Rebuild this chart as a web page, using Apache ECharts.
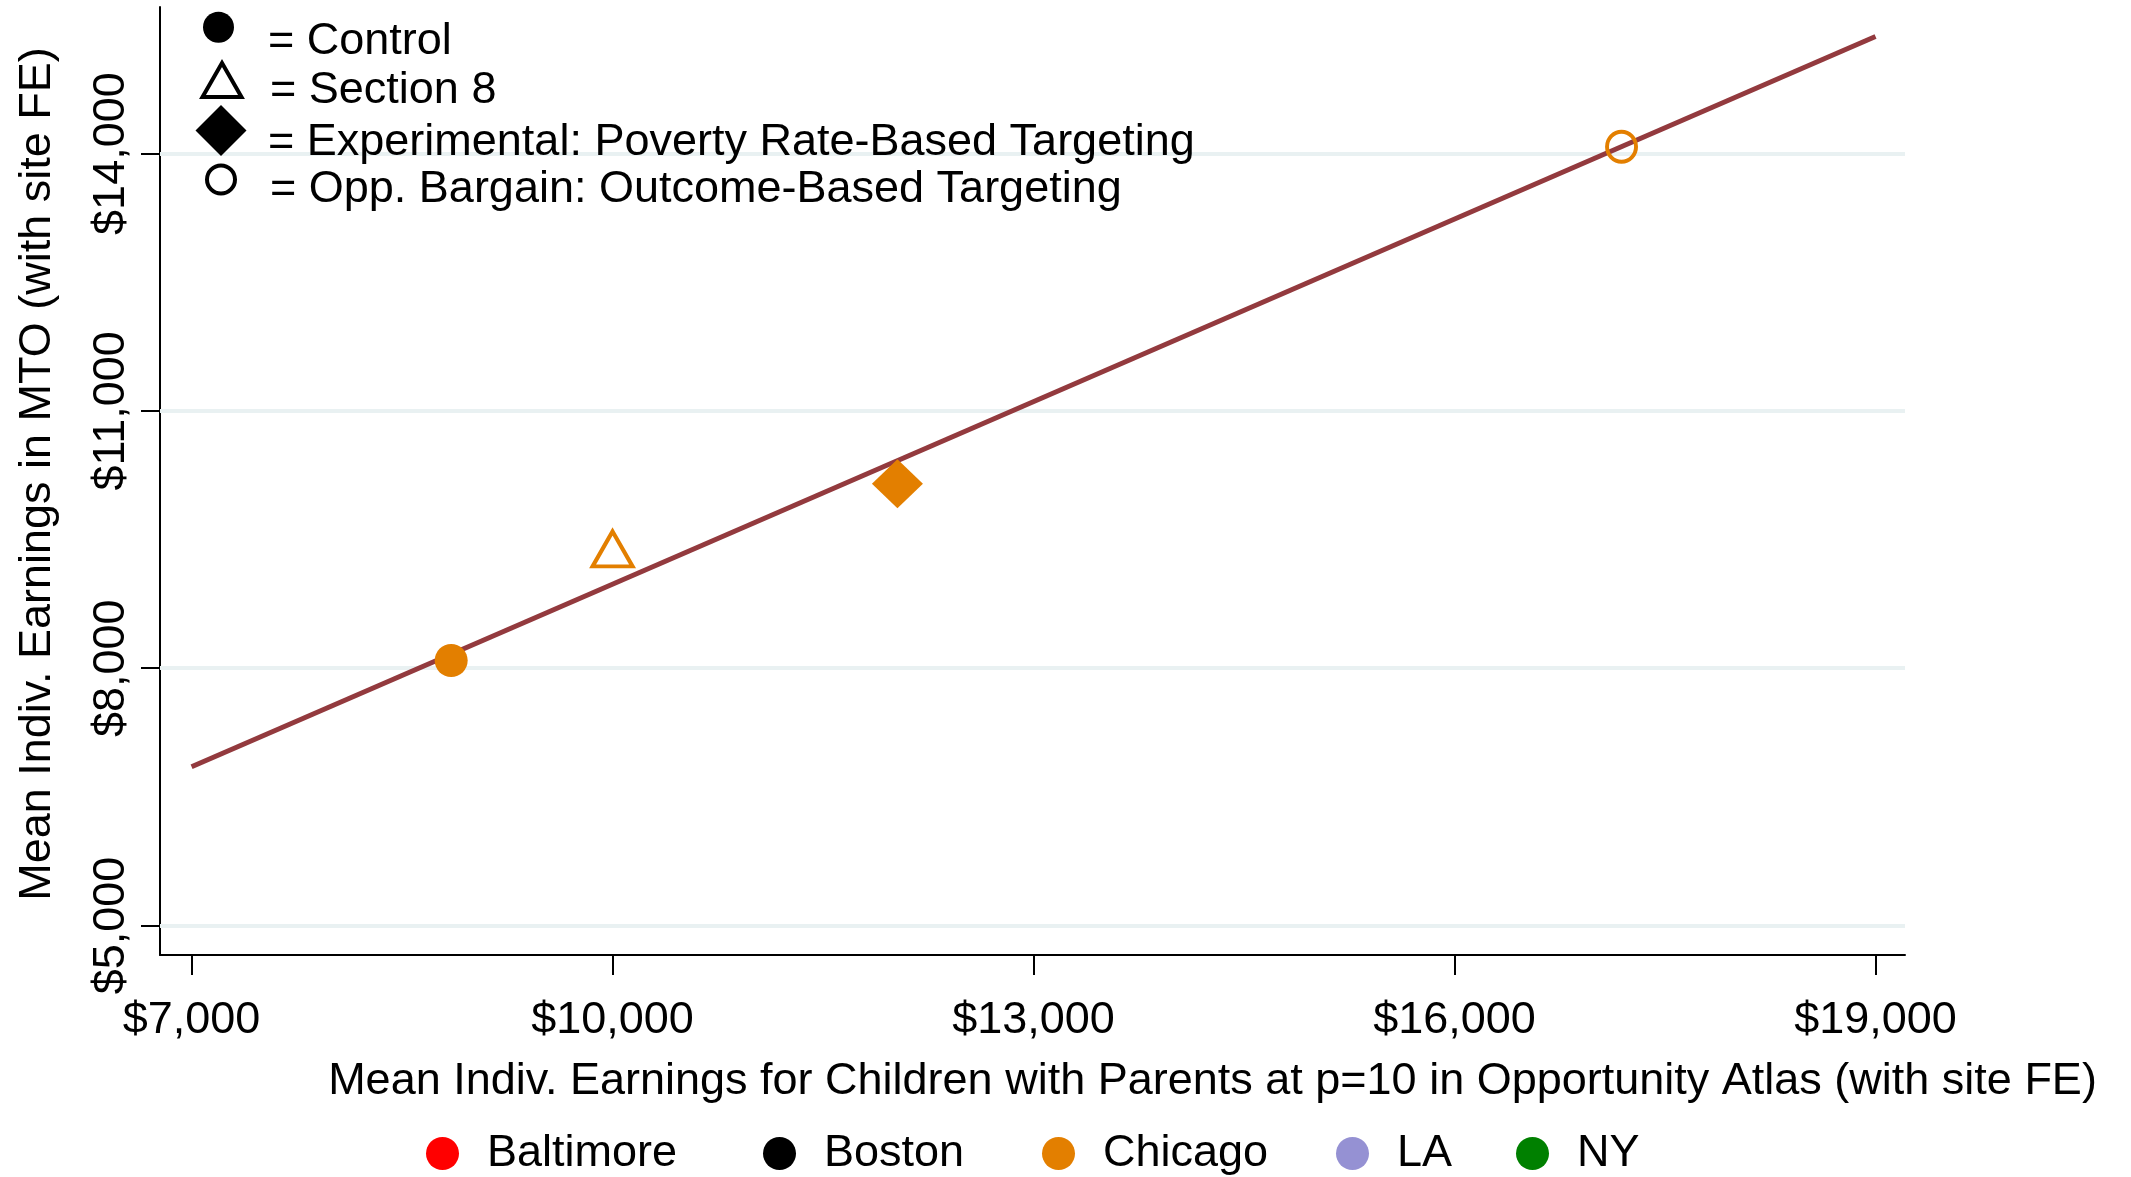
<!DOCTYPE html>
<html>
<head>
<meta charset="utf-8">
<script src="https://cdn.jsdelivr.net/npm/echarts@6/dist/echarts.min.js"></script>
<style>
  html, body { margin: 0; padding: 0; background: #fff; }
  #chart { width: 2131px; height: 1177px; }
</style>
</head>
<body>
<div id="chart"></div>
<script>
// Sites and their marker colours
const cities = ['Baltimore', 'Boston', 'Chicago', 'LA', 'NY'];
const cityColors = ['#ff0000', '#000000', '#e37f00', '#9591d3', '#008000'];

// Treatment groups (marker shape key)
const treatments = [
  'Control',
  'Section 8',
  'Experimental: Poverty Rate-Based Targeting',
  'Opp. Bargain: Outcome-Based Targeting'
];

// Chicago group means: Opportunity Atlas prediction (x) vs. MTO outcome (y)
const chicagoAtlas = [8850, 10000, 12030, 17190];
const chicagoMTO = [8090, 9390, 10150, 14080];

// Linear fit endpoints
const fitX = [7000, 19000];
const fitY = [6850, 15365];

// Axis ticks
const xTicks = [7000, 10000, 13000, 16000, 19000];
const yTicks = [5000, 8000, 11000, 14000];

const FONT = "'Liberation Sans', Arial, Helvetica, sans-serif";
const FS = 45;
const ORANGE = cityColors[2];
const money = v => '$' + Number(v).toLocaleString('en-US');

// marker styles per treatment in the plot
const plotMarker = [
  { symbol: 'circle', symbolSize: [33, 33], itemStyle: { color: ORANGE, opacity: 1 } },
  { symbol: 'triangle', symbolSize: [40, 35], itemStyle: { color: 'rgba(0,0,0,0)', borderColor: ORANGE, borderWidth: 4, opacity: 1 } },
  { symbol: 'diamond', symbolSize: [51, 49], itemStyle: { color: ORANGE, opacity: 1 } },
  { symbol: 'circle', symbolSize: [29, 30], itemStyle: { color: 'rgba(0,0,0,0)', borderColor: ORANGE, borderWidth: 4, opacity: 1 } }
];
// key icons: size, centre and how far the label sits below the icon centre
const keyMarker = [
  { icon: 'circle', w: 31, h: 32, cx: 218.5, cy: 27.3, drop: 14, style: { color: '#000', opacity: 1 } },
  { icon: 'triangle', w: 39, h: 34, cx: 220, cy: 80, drop: 11, style: { color: '#fff', borderColor: '#000', borderWidth: 4, opacity: 1 } },
  { icon: 'diamond', w: 51, h: 51, cx: 221, cy: 130.5, drop: 12.5, style: { color: '#000', opacity: 1 } },
  { icon: 'circle', w: 28, h: 28, cx: 219, cy: 179.5, drop: 10, style: { color: '#fff', borderColor: '#000', borderWidth: 4, opacity: 1 } }
];
const KEY_TEXT_X = 268;
const cityLegendLeft = [426, 763, 1042, 1336, 1516];

const series = [];

// horizontal grid lines
series.push({
  name: 'grid',
  type: 'scatter',
  data: [],
  z: 1,
  silent: true,
  markLine: {
    z: 1,
    silent: true,
    symbol: ['none', 'none'],
    label: { show: false },
    lineStyle: { color: '#e9f1f2', width: 4, type: 'solid' },
    animation: false,
    data: yTicks.map(v => ({ yAxis: v }))
  }
});

// fitted line
series.push({
  name: 'Linear fit',
  type: 'line',
  data: fitX.map((x, i) => [x, fitY[i]]),
  showSymbol: false,
  symbol: 'none',
  lineStyle: { color: '#933a3e', width: 5 },
  z: 3,
  silent: true
});

// site series (only Chicago has points)
cities.forEach((c, ci) => {
  const s = {
    name: c,
    type: 'scatter',
    itemStyle: { color: cityColors[ci], opacity: 1 },
    z: 4,
    data: []
  };
  if (c === 'Chicago') {
    s.data = chicagoAtlas.map((x, i) => Object.assign({ value: [x, chicagoMTO[i]] }, plotMarker[i]));
  }
  series.push(s);
});

// treatment key series
treatments.forEach((t, i) => {
  series.push({
    name: t,
    type: 'scatter',
    symbol: keyMarker[i].icon,
    itemStyle: keyMarker[i].style,
    data: []
  });
});

// Legend items are laid out by their bounding box; the label block (an empty
// first line plus the text line) reaches above the icon, so offset the top.
const TEXT_H = FS;
const legends = [];
treatments.forEach((t, i) => {
  const k = keyMarker[i];
  const left = k.cx - k.w / 2;
  const lh = 2 * k.drop;
  const overhang = Math.min(0, k.h / 2 - lh / 2 - TEXT_H / 2);
  legends.push({
    data: [{ name: t, icon: k.icon, itemStyle: k.style }],
    left: left,
    top: k.cy - k.h / 2 + overhang,
    padding: 0,
    itemWidth: k.w,
    itemHeight: k.h,
    selectedMode: false,
    formatter: '\n= {name}',
    textStyle: {
      fontFamily: FONT, fontSize: FS, color: '#000',
      lineHeight: lh,
      padding: [0, 0, 0, KEY_TEXT_X - (left + k.w + 5)]
    }
  });
});
cities.forEach((c, i) => {
  legends.push({
    data: [{ name: c, icon: 'circle', itemStyle: { opacity: 1 } }],
    left: cityLegendLeft[i],
    top: 1131,
    padding: 0,
    itemWidth: 33,
    itemHeight: 34,
    selectedMode: false,
    textStyle: {
      fontFamily: FONT, fontSize: FS, color: '#000',
      lineHeight: 34,
      padding: [0, 0, 0, 23]
    }
  });
});

const chart = echarts.init(document.getElementById('chart'), null, { renderer: 'canvas' });
chart.setOption({
  animation: false,
  backgroundColor: '#fff',
  textStyle: { fontFamily: FONT },
  grid: { left: 160, right: 226, top: 7, bottom: 222, containLabel: false, outerBoundsMode: 'none' },
  legend: legends,
  xAxis: {
    type: 'value',
    min: 6775,
    max: 19210,
    name: 'Mean Indiv. Earnings for Children with Parents at p=10 in Opportunity Atlas (with site FE)',
    nameLocation: 'middle',
    nameGap: 104,
    nameTextStyle: { fontFamily: FONT, fontSize: FS, color: '#000', padding: [0, 0, 0, 360] },
    axisLine: { show: true, lineStyle: { color: '#000', width: 2 } },
    axisTick: { show: true, customValues: xTicks, length: 20, lineStyle: { color: '#000', width: 2 } },
    axisLabel: { customValues: xTicks, formatter: money, fontFamily: FONT, fontSize: FS, color: '#000', margin: 43 },
    splitLine: { show: false }
  },
  yAxis: {
    type: 'value',
    min: 4656,
    max: 15709,
    name: 'Mean Indiv. Earnings in MTO (with site FE)',
    nameLocation: 'middle',
    nameRotate: 90,
    nameGap: 100,
    nameTextStyle: { fontFamily: FONT, fontSize: FS, color: '#000', padding: [0, 0, 0, 14] },
    axisLine: { show: true, lineStyle: { color: '#000', width: 2 } },
    axisTick: { show: true, customValues: yTicks, length: 19, lineStyle: { color: '#000', width: 2 } },
    axisLabel: { customValues: yTicks, formatter: money, rotate: 90, fontFamily: FONT, fontSize: FS, color: '#000', margin: 26 },
    splitLine: { show: false }
  },
  series: series
});
</script>
</body>
</html>
